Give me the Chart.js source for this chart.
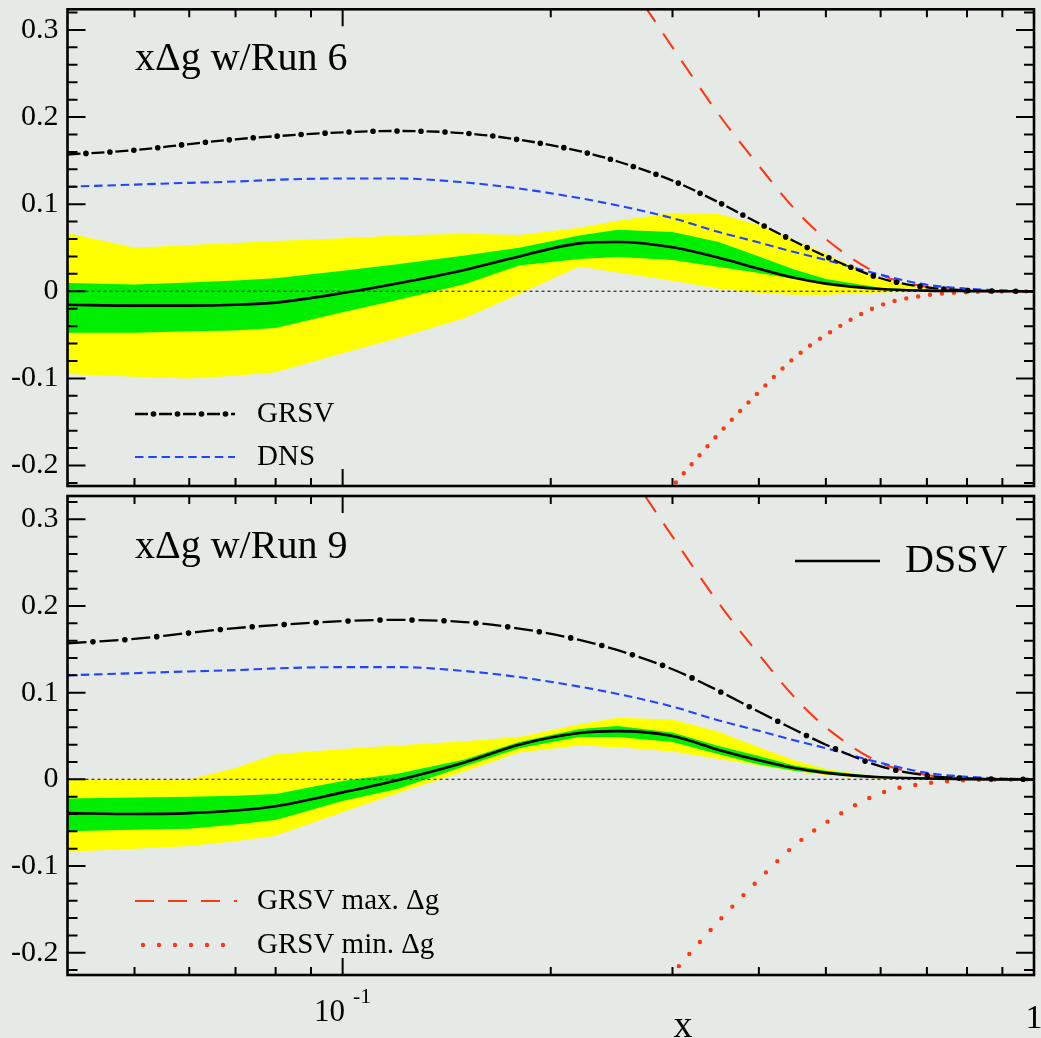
<!DOCTYPE html>
<html>
<head>
<meta charset="utf-8">
<title>xΔg w/Run 6 and Run 9</title>
<script src="https://cdn.jsdelivr.net/npm/chart.js@4.4.1/dist/chart.umd.min.js"></script>
<style>
  html, body { margin: 0; padding: 0; background: #e5eae6; }
  #wrap { position: relative; width: 1041px; height: 1038px; overflow: hidden; }
  #wrap canvas { position: absolute; left: 0; }
  #run6 { top: 0; }
  #run9 { top: 491px; }
</style>
</head>
<body>
<div id="wrap">
  <canvas id="run6" width="1041" height="491"></canvas>
  <canvas id="run9" width="1041" height="547"></canvas>
</div>
<script>
// ---------- data ----------
const xGrid = [0.04, 0.05, 0.06, 0.07, 0.08, 0.1, 0.12, 0.15, 0.18, 0.22, 0.25,
               0.3, 0.35, 0.4, 0.45, 0.5, 0.6, 0.7, 0.8, 0.9, 1.0];

// model curves (same in both panels)
const grsv    = [0.157, 0.162, 0.169, 0.1745, 0.178, 0.1825, 0.184, 0.1815, 0.174, 0.161, 0.149,
                 0.127, 0.102, 0.078, 0.0575, 0.040, 0.015, 0.0045, 0.001, 0.0002, 0];
const dns     = [0.120, 0.1225, 0.1245, 0.126, 0.128, 0.1295, 0.1295, 0.125, 0.118, 0.107, 0.0985,
                 0.084, 0.068, 0.056, 0.045, 0.036, 0.019, 0.0075, 0.003, 0.001, 0];
const grsvMax = [null, null, null, null, null, null, null, null, 0.55, 0.44, 0.374,
                 0.280, 0.203, 0.144, 0.095, 0.060, 0.019, 0.005, 0.001, 0.0002, 0];
const grsvMin = [null, null, null, null, null, null, null, null, null, -0.36, -0.30,
                 -0.224, -0.1635, -0.1155, -0.0765, -0.050, -0.016, -0.0045, -0.001, -0.0002, 0];

// DSSV fit with Run 6 data: central value and uncertainty bands
const dssvRun6      = [-0.0155, -0.0165, -0.0165, -0.0155, -0.013, -0.002, 0.009, 0.0245, 0.040, 0.055, 0.0566,
                       0.0505, 0.0385, 0.026, 0.0155, 0.0088, 0.0027, 0.0008, 0.0002, 0, 0];
const innerHiRun6   = [0.0096, 0.0077, 0.010, 0.0125, 0.015, 0.0235, 0.031, 0.041, 0.050, 0.064, 0.0707,
                       0.068, 0.0565, 0.040, 0.025, 0.014, 0.004, 0.001, 0.0002, 0, 0];
const innerLoRun6   = [-0.0477, -0.0477, -0.046, -0.045, -0.042, -0.024, -0.010, 0.008, 0.0295, 0.037, 0.0394,
                       0.036, 0.028, 0.021, 0.014, 0.008, 0.002, 0.0005, 0, 0, 0];
const outerHiRun6   = [0.067, 0.050, 0.053, 0.0555, 0.0577, 0.061, 0.064, 0.066, 0.0645, 0.073, 0.081,
                       0.090, 0.0886, 0.076, 0.059, 0.043, 0.0134, 0.003, 0.0005, 0, 0];
const outerLoRun6   = [-0.095, -0.098, -0.100, -0.097, -0.093, -0.071, -0.054, -0.031, -0.003, 0.0285, 0.0217,
                       0.012, 0.003, -0.002, -0.004, -0.004, -0.0015, -0.0005, 0, 0, 0];

// DSSV fit with Run 9 data
const dssvRun9      = [-0.039, -0.040, -0.039, -0.036, -0.031, -0.015, -0.001, 0.0195, 0.040, 0.0535, 0.0556,
                       0.050, 0.034, 0.022, 0.013, 0.0075, 0.0025, 0.001, 0.0003, 0, 0];
const innerHiRun9   = [-0.022, -0.021, -0.020, -0.019, -0.017, -0.002, 0.0065, 0.023, 0.043, 0.058, 0.0615,
                       0.054, 0.0385, 0.027, 0.016, 0.010, 0.003, 0.001, 0, 0, 0];
const innerLoRun9   = [-0.060, -0.058, -0.057, -0.052, -0.047, -0.025, -0.011, 0.015, 0.036, 0.049, 0.049,
                       0.043, 0.029, 0.017, 0.010, 0.006, 0.0015, 0.0003, 0, 0, 0];
const outerHiRun9   = [0, 0, 0, 0.013, 0.029, 0.035, 0.039, 0.044, 0.049, 0.0636, 0.071,
                       0.069, 0.055, 0.037, 0.022, 0.012, 0.0025, 0.0005, 0, 0, 0];
const outerLoRun9   = [-0.0835, -0.080, -0.077, -0.0714, -0.065, -0.038, -0.016, 0.009, 0.031, 0.039, 0.037,
                       0.032, 0.0235, 0.016, 0.0095, 0.005, 0.0008, 0, 0, 0, 0];

// axis ticks and labels
const yMajorTicks = [-0.2, -0.1, 0, 0.1, 0.2, 0.3];
const yMinorTicks = [-0.22, -0.18, -0.16, -0.14, -0.12, -0.08, -0.06, -0.04, -0.02,
                     0.02, 0.04, 0.06, 0.08, 0.12, 0.14, 0.16, 0.18, 0.22, 0.24, 0.26, 0.28, 0.32];
const xMajorTicks = [0.1];
const xMinorTicks = [0.05, 0.06, 0.07, 0.08, 0.09, 0.2, 0.3, 0.4, 0.5, 0.6, 0.7, 0.8, 0.9];
const xLabelValues = [0.1, 1];
const xLabelBases  = ['10', '1'];
const xLabelExps   = ['-1', ''];
const xTitle = 'x';

// ---------- styling ----------
const FONT = "'Liberation Serif', 'Times New Roman', Times, serif";
const YELLOW = '#ffff00', GREEN = '#00ee00', RED = '#ff3814', BLUE = '#2244ff', BLACK = '#000000';

function lineStyles(p) {
  const cycle = p.grsvDash[0] + p.grsvDash[1];
  return {
    DSSV: [{ color: BLACK, width: 2.6, dash: [], cap: 'butt' }],
    GRSV: [{ color: BLACK, width: 2.3, dash: p.grsvDash, cap: 'butt' },
           { color: BLACK, width: 5.6, dash: [0, cycle], offset: p.grsvDotOffset, cap: 'round' }],
    DNS:  [{ color: BLUE, width: 2.1, dash: [8.5, 4.8], cap: 'butt' }],
    MAX:  [{ color: RED, width: 2.1, dash: [19, 14], cap: 'butt' }],
    MIN:  [{ color: RED, width: 4.4, dash: [0, p.dotGap], cap: 'round' }]
  };
}

const toPoints = (values) =>
  xGrid.map((x, i) => ({ x, y: values[i] })).filter(pt => pt.y !== null);

function lineDataset(label, values, st, order, extra) {
  return Object.assign({
    label, data: toPoints(values),
    borderColor: st.color, borderWidth: st.width,
    borderDash: st.dash, borderDashOffset: st.offset || 0,
    borderCapStyle: st.cap, borderJoinStyle: 'round',
    pointRadius: 0, fill: false, order,
    cubicInterpolationMode: 'monotone'
  }, extra || {});
}

function bandDataset(label, values, color, target, order) {
  return {
    label, data: toPoints(values),
    borderWidth: 0, borderColor: 'rgba(0,0,0,0)', backgroundColor: color,
    pointRadius: 0, fill: target, order, tension: 0
  };
}

function strokeSample(ctx, passes, x1, x2, y) {
  for (const st of passes) {
    ctx.save();
    ctx.strokeStyle = st.color;
    ctx.lineWidth = st.width;
    ctx.lineCap = st.cap;
    ctx.setLineDash(st.dash);
    ctx.lineDashOffset = st.offset || 0;
    ctx.beginPath();
    ctx.moveTo(x1, y);
    ctx.lineTo(x2, y);
    ctx.stroke();
    ctx.restore();
  }
}

function decorations(p, styles) {
  return {
    id: 'panelDecor',
    beforeDatasetDraw(chart, args) {
      const ds = chart.data.datasets[args.index];
      if (!ds.zeroLineBefore) return;
      const { ctx, chartArea: a, scales: { y } } = chart;
      const py = y.getPixelForValue(0);
      ctx.save();
      ctx.strokeStyle = p.zeroColor;
      ctx.lineWidth = 1.3;
      ctx.setLineDash([3, 3]);
      ctx.beginPath();
      ctx.moveTo(a.left, py);
      ctx.lineTo(a.right, py);
      ctx.stroke();
      ctx.restore();
    },
    afterDraw(chart) {
      const { ctx, chartArea: a, scales: { x, y } } = chart;
      ctx.save();
      ctx.setLineDash([]);
      ctx.strokeStyle = BLACK;
      ctx.lineWidth = 2;
      ctx.beginPath();
      const yTick = (v, len) => {
        const py = y.getPixelForValue(v);
        ctx.moveTo(a.left, py); ctx.lineTo(a.left + len, py);
        ctx.moveTo(a.right, py); ctx.lineTo(a.right - len, py);
      };
      const xTick = (v, len) => {
        const px = x.getPixelForValue(v);
        ctx.moveTo(px, a.top); ctx.lineTo(px, a.top + len);
        ctx.moveTo(px, a.bottom); ctx.lineTo(px, a.bottom - len);
      };
      yMajorTicks.forEach(v => yTick(v, 18));
      yMinorTicks.forEach(v => yTick(v, 10));
      xMajorTicks.forEach(v => xTick(v, 17));
      xMinorTicks.forEach(v => xTick(v, 8));
      ctx.stroke();
      ctx.lineWidth = 2.6;
      ctx.strokeRect(a.left, a.top, a.right - a.left, a.bottom - a.top);

      // panel title
      ctx.fillStyle = BLACK;
      ctx.textAlign = 'left';
      ctx.textBaseline = 'alphabetic';
      ctx.font = `${p.titleSize}px ${FONT}`;
      ctx.fillText(p.title, p.titleX, p.titleY);

      // legend entries
      ctx.textBaseline = 'middle';
      for (const item of p.legend) {
        strokeSample(ctx, styles[item.key], item.x1, item.x2, item.y);
        ctx.fillStyle = BLACK;
        ctx.font = `${item.size}px ${FONT}`;
        ctx.fillText(item.text, item.textX, item.y);
      }

      // x-axis labels under the lower panel
      if (p.xLabels) {
        ctx.textBaseline = 'alphabetic';
        xLabelValues.forEach((v, i) => {
          const px = x.getPixelForValue(v);
          const base = xLabelBases[i], exp = xLabelExps[i];
          if (exp) {
            ctx.font = `31px ${FONT}`;
            const wb = ctx.measureText(base).width;
            ctx.font = `22px ${FONT}`;
            const we = ctx.measureText(exp).width;
            const start = px - (wb + 8 + we) / 2;
            ctx.font = `31px ${FONT}`;
            ctx.textAlign = 'left';
            ctx.fillText(base, start, a.bottom + 46);
            ctx.font = `22px ${FONT}`;
            ctx.fillText(exp, start + wb + 8, a.bottom + 28);
          } else {
            ctx.font = `34px ${FONT}`;
            ctx.textAlign = 'center';
            ctx.fillText(base, px, a.bottom + 53);
          }
        });
        ctx.font = `38px ${FONT}`;
        ctx.textAlign = 'center';
        ctx.fillText(xTitle, 683, a.bottom + 62);
      }
      ctx.restore();
    }
  };
}

function buildPanel(p) {
  const st = lineStyles(p);
  const datasets = [
    bandDataset('outer upper', p.outerHi, YELLOW, 1, 20),
    bandDataset('outer lower', p.outerLo, YELLOW, false, 20),
    bandDataset('inner upper', p.innerHi, GREEN, 3, 19),
    bandDataset('inner lower', p.innerLo, GREEN, false, 19),
    lineDataset('GRSV min. Δg', grsvMin, st.MIN[0], 8, { zeroLineBefore: true }),
    lineDataset('GRSV max. Δg', grsvMax, st.MAX[0], 7),
    lineDataset('DNS', dns, st.DNS[0], 6),
    lineDataset('GRSV', grsv, st.GRSV[0], 5),
    lineDataset('GRSV', grsv, st.GRSV[1], 4),
    lineDataset('DSSV', p.dssv, st.DSSV[0], 1)
  ];
  return new Chart(document.getElementById(p.canvas), {
    type: 'line',
    data: { datasets },
    options: {
      responsive: false,
      animation: false,
      devicePixelRatio: 1,
      events: [],
      layout: { padding: { left: 0, right: 7, top: p.padTop, bottom: p.padBottom } },
      plugins: { legend: { display: false }, tooltip: { enabled: false } },
      scales: {
        x: { type: 'logarithmic', min: 0.04, max: 1, display: false },
        y: {
          type: 'linear', min: p.yMin, max: p.yMax, position: 'left',
          grid: { display: false, drawTicks: false },
          border: { display: false },
          afterBuildTicks: (s) => { s.ticks = yMajorTicks.map(v => ({ value: v })); },
          afterFit: (s) => { s.width = 67.5; s.paddingTop = 0; s.paddingBottom = 0; },
          ticks: {
            autoSkip: false,
            padding: 9,
            color: BLACK,
            font: { family: FONT, size: 30 },
            callback: (v) => (Math.abs(v) < 1e-9 ? '0' : String(+v.toFixed(1)))
          }
        }
      }
    },
    plugins: [decorations(p, st)]
  });
}

buildPanel({
  canvas: 'run6', title: 'xΔg w/Run 6', titleX: 135, titleY: 70, titleSize: 40,
  yMin: -0.2235, yMax: 0.3237, padTop: 9.3, padBottom: 5,
  dssv: dssvRun6, innerHi: innerHiRun6, innerLo: innerLoRun6, outerHi: outerHiRun6, outerLo: outerLoRun6,
  grsvDash: [13, 11], grsvDotOffset: 5.5, dotGap: 12, zeroColor: '#3a3a3a',
  legend: [
    { key: 'GRSV', text: 'GRSV', x1: 135, x2: 235, y: 414, textX: 257, size: 29 },
    { key: 'DNS', text: 'DNS', x1: 135, x2: 235, y: 457, textX: 257, size: 29 }
  ],
  xLabels: false
});

buildPanel({
  canvas: 'run9', title: 'xΔg w/Run 9', titleX: 135, titleY: 67, titleSize: 40,
  yMin: -0.2257, yMax: 0.3269, padTop: 5, padBottom: 63,
  dssv: dssvRun9, innerHi: innerHiRun9, innerLo: innerLoRun9, outerHi: outerHiRun9, outerLo: outerLoRun9,
  grsvDash: [19, 13], grsvDotOffset: 6.5, dotGap: 16, zeroColor: '#5e3328',
  legend: [
    { key: 'DSSV', text: 'DSSV', x1: 795, x2: 880, y: 70, textX: 905, size: 40 },
    { key: 'MAX', text: 'GRSV max. Δg', x1: 135, x2: 237, y: 410, textX: 257, size: 29 },
    { key: 'MIN', text: 'GRSV min. Δg', x1: 143, x2: 226, y: 454, textX: 257, size: 29 }
  ],
  xLabels: true
});
</script>
</body>
</html>
